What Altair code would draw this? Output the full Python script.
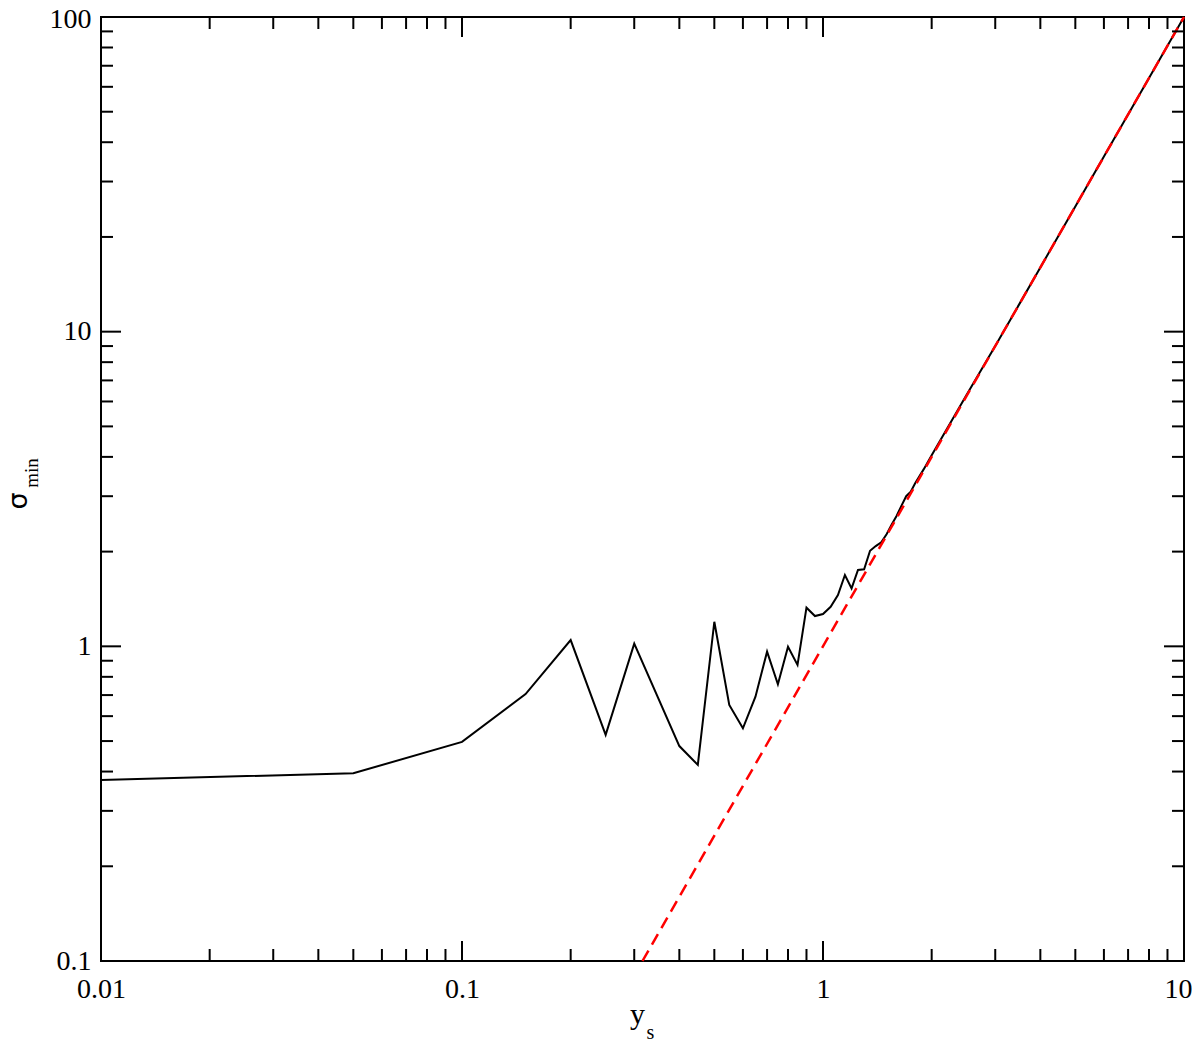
import altair as alt
import pandas as pd

# black curve: sigma_min vs y_s
ys_vals = [0.01, 0.05, 0.1, 0.15, 0.2, 0.25, 0.3, 0.4, 0.45, 0.5, 0.55, 0.6, 0.65,
           0.7, 0.75, 0.8, 0.85, 0.9, 0.95, 1.0, 1.05, 1.1, 1.15, 1.2, 1.25, 1.3,
           1.35, 1.4, 1.45, 1.5, 1.55, 1.6, 1.65, 1.7, 1.75, 1.8, 1.9, 2.0, 2.5,
           3.0, 4.0, 5.0, 6.0, 7.0, 8.0, 9.0, 10.0]
sigma_vals = [0.376, 0.395, 0.497, 0.705, 1.047, 0.523, 1.02, 0.482, 0.42, 1.197,
              0.651, 0.549, 0.692, 0.962, 0.757, 0.997, 0.873, 1.327, 1.248, 1.267,
              1.336, 1.455, 1.685, 1.528, 1.748, 1.757, 2.013, 2.083, 2.14, 2.27,
              2.44, 2.6, 2.8, 3.0, 3.1, 3.3, 3.65, 4.05, 6.3, 9.0, 16.0, 25.0,
              36.0, 49.0, 64.0, 81.0, 100.0]

# red dashed reference line
ref_x = [0.3162, 10.0]
ref_y = [0.1, 100.0]

# tick values
x_major = [0.01, 0.1, 1, 10]
y_major = [0.1, 1, 10, 100]
x_major_inner = [0.1, 1]
y_major_inner = [1, 10]
x_minor = [0.02, 0.03, 0.04, 0.05, 0.06, 0.07, 0.08, 0.09,
           0.2, 0.3, 0.4, 0.5, 0.6, 0.7, 0.8, 0.9,
           2, 3, 4, 5, 6, 7, 8, 9]
y_minor = [0.2, 0.3, 0.4, 0.5, 0.6, 0.7, 0.8, 0.9,
           2, 3, 4, 5, 6, 7, 8, 9,
           20, 30, 40, 50, 60, 70, 80, 90]

W, H = 1083, 944
MAJ, MIN = 20, 12
FONT = "Liberation Serif"

xs = alt.Scale(type="log", domain=[0.01, 10], nice=False)
ysc = alt.Scale(type="log", domain=[0.1, 100], nice=False)
xaxis = alt.Axis(values=x_major, format="~g", title="", ticks=False, domain=False,
                 grid=False, labelPadding=14, labelFont=FONT, labelFontSize=28,
                 labelColor="black", labelFlush=False, labelOverlap=False,
                 labelOffset=alt.ExprRef("datum.value == 10 ? -6 : 0"))
yaxis = alt.Axis(values=y_major, format="~g", title="", ticks=False, domain=False,
                 grid=False, labelPadding=10, labelFont=FONT, labelFontSize=28,
                 labelColor="black", labelFlush=False, labelOverlap=False,
                 labelOffset=alt.ExprRef("datum.value == 100 ? 2 : 0"))

curve = pd.DataFrame({"x": ys_vals, "y": sigma_vals})
ref = pd.DataFrame({"x": ref_x, "y": ref_y})

black = alt.Chart(curve).mark_line(color="black", strokeWidth=2).encode(
    x=alt.X("x:Q", scale=xs, axis=xaxis),
    y=alt.Y("y:Q", scale=ysc, axis=yaxis),
    order="x:Q",
)
red = alt.Chart(ref).mark_line(color="#ff0000", strokeWidth=2.5, strokeDash=[12, 7]).encode(
    x=alt.X("x:Q", scale=xs, axis=xaxis),
    y=alt.Y("y:Q", scale=ysc, axis=yaxis),
)


def xticks(vals, length):
    d = pd.DataFrame({"x": vals})
    base = alt.Chart(d).mark_rule(color="black", strokeWidth=2)
    bottom = base.encode(x=alt.X("x:Q", scale=xs, axis=xaxis),
                         y=alt.value(H), y2=alt.value(H - length))
    top = base.encode(x=alt.X("x:Q", scale=xs, axis=xaxis),
                      y=alt.value(0), y2=alt.value(length))
    return [bottom, top]


def yticks(vals, length):
    d = pd.DataFrame({"y": vals})
    base = alt.Chart(d).mark_rule(color="black", strokeWidth=2)
    left = base.encode(y=alt.Y("y:Q", scale=ysc, axis=yaxis),
                       x=alt.value(0), x2=alt.value(length))
    right = base.encode(y=alt.Y("y:Q", scale=ysc, axis=yaxis),
                        x=alt.value(W), x2=alt.value(W - length))
    return [left, right]


ticks = (xticks(x_minor, MIN) + xticks(x_major_inner, MAJ)
         + yticks(y_minor, MIN) + yticks(y_major_inner, MAJ))

lab = pd.DataFrame({"a": [0]})
xt_main = alt.Chart(lab).mark_text(text="y", font=FONT, fontSize=30, align="center",
                                   baseline="alphabetic", color="black").encode(
    x=alt.value(536.5), y=alt.value(1007))
xt_sub = alt.Chart(lab).mark_text(text="s", font=FONT, fontSize=20, align="left",
                                  baseline="alphabetic", color="black").encode(
    x=alt.value(545.5), y=alt.value(1021.5))
yt_main = alt.Chart(lab).mark_text(text="σ", font="DejaVu Sans", fontSize=27, align="center",
                                   baseline="alphabetic", angle=270, color="black").encode(
    x=alt.value(-74), y=alt.value(484))
yt_sub = alt.Chart(lab).mark_text(text="min", font=FONT, fontSize=19, align="center",
                                  baseline="alphabetic", angle=270, color="black").encode(
    x=alt.value(-63), y=alt.value(456))

chart = alt.layer(black, red, *ticks, xt_main, xt_sub, yt_main, yt_sub).properties(
    width=W, height=H,
    autosize=alt.AutoSizeParams(type="none"),
    padding={"left": 93, "top": 9, "right": 8, "bottom": 83},
    background="white",
).configure_view(stroke="black", strokeWidth=2).configure_axis(
    labelFont=FONT, labelFontSize=28, labelColor="black")

chart.save("out.html", embed_options={"renderer": "svg", "actions": False})
